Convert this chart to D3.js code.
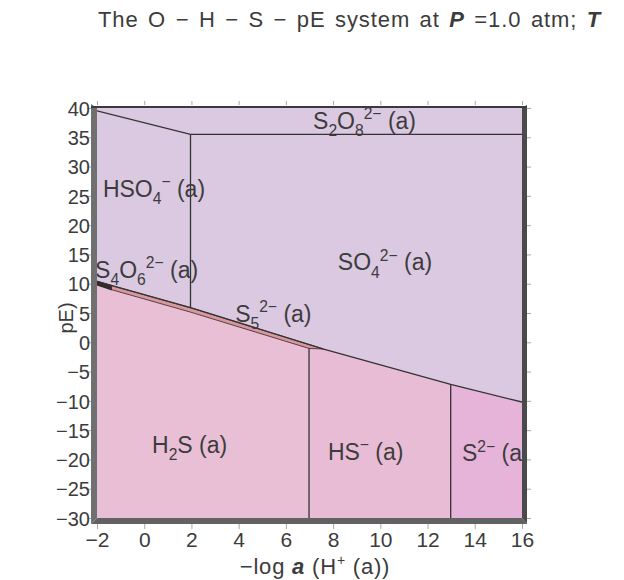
<!DOCTYPE html>
<html>
<head>
<meta charset="utf-8">
<script src="https://cdn.jsdelivr.net/npm/d3@7"></script>
<style>
  html, body { margin: 0; padding: 0; background: #fff; }
  svg { display: block; }
  text { font-family: "Liberation Sans", Arial, sans-serif; fill: #3c3c3c; }
</style>
</head>
<body>
<svg id="chart" width="624" height="580"></svg>
<script>
// Axis ticks
const xTicks = [-2, 0, 2, 4, 6, 8, 10, 12, 14, 16];
const yTicks = [40, 35, 30, 25, 20, 15, 10, 5, 0, -5, -10, -15, -20, -25, -30];

// Predominance-field boundaries as [−log a(H+), pE] vertices
const s2o8Edge    = [[-2, 39.5], [1.96, 35.5], [16, 35.5]];
const hso4Edge    = [[1.96, 35.5], [1.96, 5.9]];
const sulfateEdge = [[-2, 10.4], [-1.4, 9.7], [1.96, 5.9], [7.6, -1.15], [12.98, -7.2], [16, -10.2]];
const sulfideEdge = [[-2, 9.8], [-1.4, 9.0], [1.96, 5.15], [6.98, -1.05], [7.6, -1.15]];
const h2sHsEdge   = [[6.98, -1.05], [6.98, -30]];
const hsS2Edge    = [[12.98, -7.2], [12.98, -30]];
const s4o6Edge    = [[-1.4, 9.7], [-1.4, 9.0]];

// Field labels: text pieces (plain / sub / sup) and anchor in data units
const fieldNames = [
  [["S"], ["2", "sub"], ["O"], ["8", "sub"], ["2−", "sup"], [" (a)"]],
  [["HSO"], ["4", "sub"], ["−", "sup"], [" (a)"]],
  [["SO"], ["4", "sub"], ["2−", "sup"], [" (a)"]],
  [["S"], ["4", "sub"], ["O"], ["6", "sub"], ["2−", "sup"], [" (a)"]],
  [["S"], ["5", "sub"], ["2−", "sup"], [" (a)"]],
  [["H"], ["2", "sub"], ["S (a)"]],
  [["HS"], ["−", "sup"], [" (a)"]],
  [["S"], ["2−", "sup"], [" (a)"]]
];
const fieldAnchors = [
  [7.15, 36.4], [-1.75, 24.8], [8.2, 12.3], [-2.08, 11.0],
  [3.85, 3.5], [0.33, -18.9], [7.78, -20.1], [13.46, -20.3]
];

const svg = d3.select("#chart");
const x = d3.scaleLinear().domain([-2, 16]).range([97, 522]);
const y = d3.scaleLinear().domain([-30, 40]).range([518, 108]);
const line = d3.line().x(d => x(d[0])).y(d => y(d[1]));
const poly = pts => line(pts) + "Z";

// clip for everything inside the plotting box
svg.append("clipPath").attr("id", "plotClip")
  .append("rect").attr("x", x(-2)).attr("y", y(40))
  .attr("width", x(16) - x(-2)).attr("height", y(-30) - y(40));

const plot = svg.append("g").attr("clip-path", "url(#plotClip)");

// oxidised sulfur fields (HSO4-, SO4 2-, S2O8 2-) share one colour
plot.append("rect")
  .attr("x", x(-2)).attr("y", y(40))
  .attr("width", x(16) - x(-2)).attr("height", y(-30) - y(40))
  .attr("fill", "#dbc8e1");

// reduced sulfur fields
const h2sPoly = [[-2, -30], ...sulfideEdge.slice(0, 4), [6.98, -30]];
const hsPoly  = [[6.98, -30], [6.98, -1.05], [7.6, -1.15], [12.98, -7.2], [12.98, -30]];
const s2Poly  = [[12.98, -30], [12.98, -7.2], [16, -10.2], [16, -30]];
const s5Poly  = [...sulfateEdge.slice(1, 4), ...sulfideEdge.slice(1, 5).reverse()];
const s4o6Poly = [sulfateEdge[0], sulfateEdge[1], sulfideEdge[1], sulfideEdge[0]];

plot.append("path").attr("d", poly(h2sPoly)).attr("fill", "#e8bfd4");
plot.append("path").attr("d", poly(hsPoly)).attr("fill", "#e9bcd6");
plot.append("path").attr("d", poly(s2Poly)).attr("fill", "#e6b4d8");
plot.append("path").attr("d", poly(s5Poly)).attr("fill", "#d8979f")
  .attr("stroke", "#4a3434").attr("stroke-width", 0.9);
plot.append("path").attr("d", poly(s4o6Poly)).attr("fill", "#3a2a2a")
  .attr("stroke", "#2a2a2a").attr("stroke-width", 1.2);

// field boundaries
[s2o8Edge, hso4Edge, sulfateEdge, h2sHsEdge, hsS2Edge, s4o6Edge].forEach(pts => {
  plot.append("path").attr("d", line(pts))
    .attr("fill", "none").attr("stroke", "#333").attr("stroke-width", 1.3);
});

// field labels
function richText(g, px, py, parts, size) {
  const t = g.append("text").attr("x", px).attr("y", py).style("font-size", size + "px");
  let shift = 0;
  parts.forEach(([s, kind]) => {
    const target = kind === "sub" ? size * 0.32 : kind === "sup" ? -size * 0.42 : 0;
    const ts = t.append("tspan").attr("dy", target - shift).text(s);
    ts.style("font-size", (kind ? size * 0.68 : size) + "px");
    shift = target;
  });
  return t;
}
const labelG = svg.append("g").attr("clip-path", "url(#plotClip)");
fieldNames.forEach((parts, i) => {
  const [a, b] = fieldAnchors[i];
  richText(labelG, x(a), y(b), parts, 23);
});

// box with bevelled shadow edges
const L = x(-2), R = x(16), T = y(40), B = y(-30);
svg.append("path").attr("d", `M${L - 6},${T - 4} L${L},${T} L${L},${B} L${L - 6},${B + 6}Z`).attr("fill", "#707070");
svg.append("path").attr("d", `M${L - 6},${B + 6} L${L},${B} L${R},${B} L${R + 5},${B + 6}Z`).attr("fill", "#626262");
svg.append("path").attr("d", `M${R},${T} L${R + 5},${T - 3} L${R + 5},${B + 6} L${R},${B}Z`).attr("fill", "#4a4a4a");
svg.append("line").attr("x1", L - 6).attr("x2", R + 5).attr("y1", T - 1).attr("y2", T - 1)
  .attr("stroke", "#3a3a3a").attr("stroke-width", 2);

// axes
const axisStyle = size => g => {
  g.select(".domain").remove();
  g.selectAll(".tick line").attr("stroke", "#a8a8a8");
  g.selectAll(".tick text").style("font-size", size + "px").attr("fill", "#3c3c3c")
    .style("font-family", '"Liberation Sans", Arial, sans-serif');
};
const fmt = d => (d < 0 ? "−" : "") + Math.abs(d);

svg.append("g").attr("transform", `translate(${L - 6},0)`)
  .call(d3.axisLeft(y).tickValues(yTicks).tickSize(4).tickPadding(0).tickFormat(fmt))
  .call(axisStyle(20))
  .selectAll(".tick text").attr("x", -1).attr("dy", "0.36em");

svg.append("g").attr("transform", `translate(0,${B + 6})`)
  .call(d3.axisBottom(x).tickValues(xTicks).tickSize(5).tickPadding(3).tickFormat(fmt))
  .call(axisStyle(21));

svg.append("g").attr("transform", `translate(0,${T - 3})`)
  .call(d3.axisTop(x).tickValues(xTicks).tickSize(4).tickFormat(""))
  .call(axisStyle(20));

svg.append("g").attr("transform", `translate(${R + 5},0)`)
  .call(d3.axisRight(y).tickValues(yTicks).tickSize(4).tickFormat(""))
  .call(axisStyle(20));

// title
const title = svg.append("text").attr("x", 98).attr("y", 27)
  .style("font-size", "22px").style("letter-spacing", "0.9px").style("word-spacing", "2.5px");
title.append("tspan").text("The O − H − S − pE system at ");
title.append("tspan").text("P").style("font-style", "italic").style("font-weight", "bold");
title.append("tspan").text(" =1.0 atm;  ");
title.append("tspan").text("T").style("font-style", "italic").style("font-weight", "bold");

// axis titles
svg.append("text")
  .attr("transform", `translate(73,318) rotate(-90)`)
  .attr("text-anchor", "middle").style("font-size", "20px").text("pE)");

const xt = svg.append("text").attr("x", 315).attr("y", 574)
  .attr("text-anchor", "middle").style("font-size", "22px").style("letter-spacing", "0.8px");
xt.append("tspan").text("−log ");
xt.append("tspan").text("a").style("font-style", "italic").style("font-weight", "bold");
xt.append("tspan").text(" (H");
xt.append("tspan").text("+").attr("dy", -9).style("font-size", "14px");
xt.append("tspan").text(" (a))").attr("dy", 9);
</script>
</body>
</html>
